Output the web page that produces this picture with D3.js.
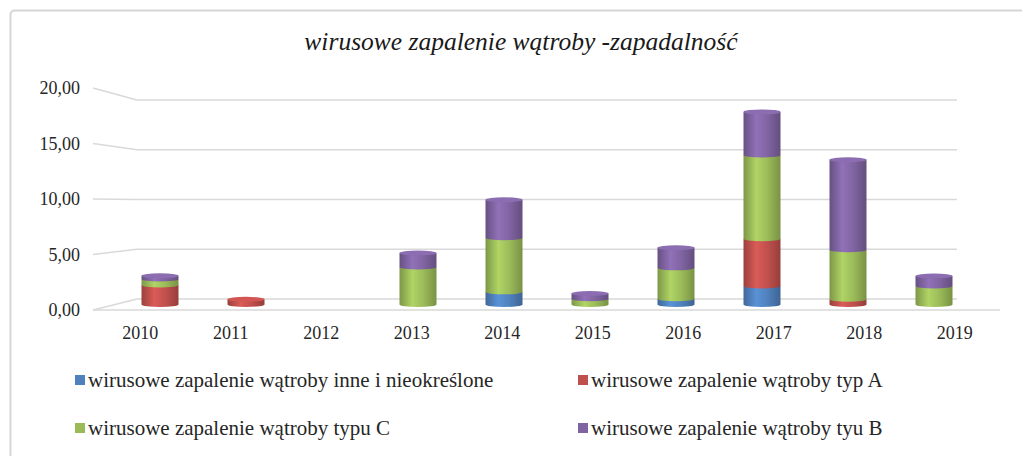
<!DOCTYPE html>
<html><head><meta charset="utf-8">
<script src="https://cdn.jsdelivr.net/npm/d3@7"></script>
<style>body{margin:0;background:#fff}svg{display:block}</style>
</head><body><svg id="c" width="1022" height="456"></svg>
<script>
const title = "wirusowe zapalenie wątroby -zapadalność";
const years = ["2010","2011","2012","2013","2014","2015","2016","2017","2018","2019"];
const seriesNames = [
  "wirusowe zapalenie wątroby inne i nieokreślone",
  "wirusowe zapalenie wątroby typ A",
  "wirusowe zapalenie wątroby typu C",
  "wirusowe zapalenie wątroby tyu B"
];
const inne  = [0,    0,   0, 0,    1.2,  0,    0.55, 1.75, 0,    0   ];
const typA  = [1.85, 0.5, 0, 0,    0,    0,    0,    4.5,  0.5,  0   ];
const typC  = [0.57, 0,   0, 3.57, 5.15, 0.55, 2.93, 7.95, 4.7,  1.75];
const typB  = [0.3,  0,   0, 1.33, 3.6,  0.5,  1.92, 4.1,  8.55, 0.95];
const yTicks = [0, 5, 10, 15, 20];
const colors = ["#4f81bd", "#c0504d", "#9bbb59", "#8064a2"];

const svg = d3.select("#c");
const W = 1022, H = 456;
svg.append("rect").attr("width", W).attr("height", H).attr("fill", "#fff");
// outer frame
svg.append("rect").attr("x", 10.5).attr("y", 10.5).attr("width", 1100).attr("height", 600)
  .attr("rx", 4).attr("fill", "none").attr("stroke", "#d6d6d6").attr("stroke-width", 2);

// title
svg.append("text").attr("x", 521).attr("y", 50).attr("text-anchor", "middle")
  .attr("font-family", "'Liberation Serif', serif").attr("font-style", "italic")
  .attr("font-size", 25.5).attr("fill", "#1a1a1a").text(title);

// scales
const yBack = d3.scaleLinear().domain([0, 20]).range([299, 100]);
const yFront = d3.scaleLinear().domain([0, 20]).range([310, 88]);
const yMid = d3.scaleLinear().domain([0, 20]).range([304.5, 94]);
const xFront = d3.scaleBand().domain(years).range([95, 1000]);
const xMid = d3.scaleBand().domain(years).range([117, 977]);
const xBackL = 137, xBackR = 957, xFrontL = 93;

const grid = svg.append("g").attr("stroke", "#d9d9d9").attr("stroke-width", 1.6).attr("fill", "none");
yTicks.forEach(t => {
  grid.append("line").attr("x1", xFrontL).attr("y1", yFront(t)).attr("x2", xBackL).attr("y2", yBack(t));
  grid.append("line").attr("x1", xBackL).attr("y1", yBack(t)).attr("x2", xBackR).attr("y2", yBack(t));
});
// floor front edge
grid.append("line").attr("x1", xFrontL).attr("y1", yFront(0)).attr("x2", 1000).attr("y2", yFront(0));

// y axis labels
const loc = d3.formatLocale({decimal: ",", thousands: " ", grouping: [3], currency: ["", ""]});
const fmt = loc.format(".2f");
const yAxis = d3.axisLeft(yFront).tickValues(yTicks).tickFormat(fmt).tickSize(0).tickPadding(13);
const gy = svg.append("g").attr("transform", `translate(${xFrontL},0)`).call(yAxis);
gy.select(".domain").remove();
gy.selectAll("text").attr("font-family", "'Liberation Serif', serif").attr("font-size", 18).attr("fill", "#262626");

// x axis labels
const xAxis = d3.axisBottom(xFront).tickSize(0).tickPadding(16);
const gx = svg.append("g").attr("transform", `translate(0,${yFront(0)})`).call(xAxis);
gx.select(".domain").remove();
gx.selectAll("text").attr("font-family", "'Liberation Serif', serif").attr("font-size", 18).attr("fill", "#262626");

// gradients
const defs = svg.append("defs");
colors.forEach((c, i) => {
  const base = d3.color(c);
  const g = defs.append("linearGradient").attr("id", "g" + i).attr("x1", "0").attr("x2", "1").attr("y1", "0").attr("y2", "0");
  g.append("stop").attr("offset", "0%").attr("stop-color", base.darker(0.6));
  g.append("stop").attr("offset", "35%").attr("stop-color", base.brighter(0.35));
  g.append("stop").attr("offset", "65%").attr("stop-color", base);
  g.append("stop").attr("offset", "100%").attr("stop-color", base.darker(0.7));
});

// stacked data
const table = years.map((y, i) => ({year: y, s0: inne[i], s1: typA[i], s2: typC[i], s3: typB[i]}));
const stack = d3.stack().keys(["s0", "s1", "s2", "s3"])(table);
const bw = 37, rx = bw / 2, ry = 2.5;
const bars = svg.append("g");
years.forEach((yr, j) => {
  const cx = xMid(yr) + xMid.bandwidth() / 2;
  const x0 = cx - rx, x1 = cx + rx;
  let topIdx = -1, topY = null;
  stack.forEach((layer, i) => {
    const d = layer[j];
    if (d[1] - d[0] <= 0) return;
    const yb = yMid(d[0]), yt = yMid(d[1]);
    bars.append("path")
      .attr("d", `M${x0},${yt} L${x0},${yb} A${rx},${ry} 0 0 0 ${x1},${yb} L${x1},${yt} Z`)
      .attr("fill", `url(#g${i})`);
    topIdx = i; topY = yt;
  });
  if (topIdx >= 0) {
    bars.append("ellipse").attr("cx", cx).attr("cy", topY).attr("rx", rx).attr("ry", ry)
      .attr("fill", d3.color(colors[topIdx]).brighter(0.25));
  }
});

// legend
const legPos = [[75, 380], [578, 380], [75, 428], [578, 428]];
const leg = svg.append("g");
seriesNames.forEach((n, i) => {
  const [lx, ly] = legPos[i];
  leg.append("rect").attr("x", lx).attr("y", ly - 5).attr("width", 10).attr("height", 10).attr("fill", colors[i]);
  leg.append("text").attr("x", lx + 13).attr("y", ly + 7)
    .attr("font-family", "'Liberation Serif', serif").attr("font-size", 21).attr("fill", "#262626").text(n);
});
</script></body></html>
